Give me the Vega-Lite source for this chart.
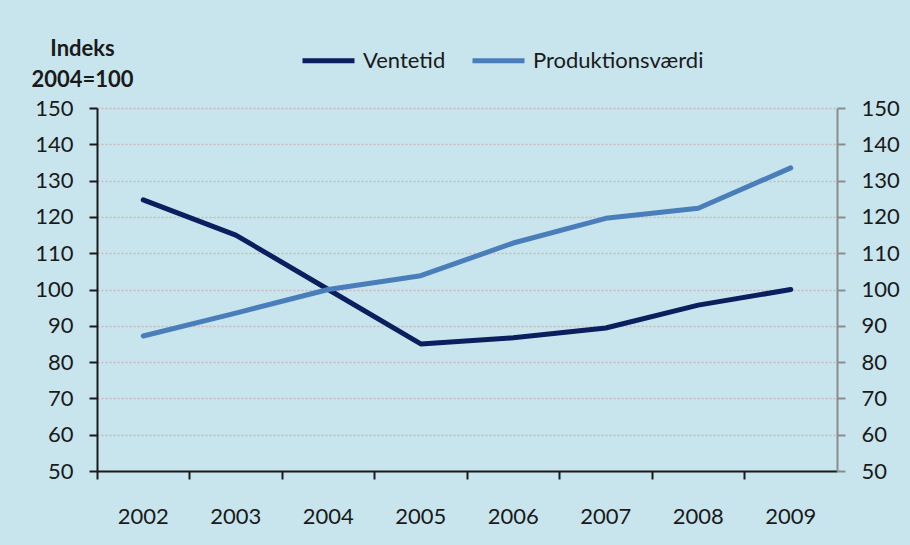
{
  "$schema": "https://vega.github.io/schema/vega-lite/v6.json",
  "width": 740,
  "height": 363,
  "autosize": {"type": "none"},
  "padding": {"left": 97, "top": 108, "right": 73, "bottom": 74},
  "background": "#c8e5ed",
  "config": {
    "view": {"stroke": null},
    "font": "Lato",
    "axis": {"labelFont": "Lato", "labelFontSize": 22, "labelColor": "#1a1a1a", "titleFont": "Lato"},
    "legend": {"labelFont": "Lato"}
  },
  "data": {
    "values": [
      {"year": "2002", "series": "Ventetid", "value": 124.7},
      {"year": "2003", "series": "Ventetid", "value": 115.0},
      {"year": "2004", "series": "Ventetid", "value": 100.0},
      {"year": "2005", "series": "Ventetid", "value": 85.0},
      {"year": "2006", "series": "Ventetid", "value": 86.7},
      {"year": "2007", "series": "Ventetid", "value": 89.4},
      {"year": "2008", "series": "Ventetid", "value": 95.7},
      {"year": "2009", "series": "Ventetid", "value": 100.0},
      {"year": "2002", "series": "Produktionsværdi", "value": 87.2},
      {"year": "2003", "series": "Produktionsværdi", "value": 93.5},
      {"year": "2004", "series": "Produktionsværdi", "value": 100.0},
      {"year": "2005", "series": "Produktionsværdi", "value": 103.8},
      {"year": "2006", "series": "Produktionsværdi", "value": 112.8},
      {"year": "2007", "series": "Produktionsværdi", "value": 119.6},
      {"year": "2008", "series": "Produktionsværdi", "value": 122.4},
      {"year": "2009", "series": "Produktionsværdi", "value": 133.5}
    ]
  },
  "layer": [
    {
      "mark": {"type": "line", "strokeWidth": 5, "strokeCap": "round", "strokeJoin": "round"},
      "encoding": {
        "x": {
          "field": "year", "type": "ordinal", "bandPosition": 0.5,
          "scale": {"type": "band", "paddingInner": 0, "paddingOuter": 0},
          "axis": {
            "title": null, "labelAngle": 0, "bandPosition": 0,
            "domainColor": "#1a1a1a", "domainWidth": 2,
            "tickColor": "#1a1a1a", "tickWidth": 2, "tickSize": 8,
            "labelPadding": 27, "grid": false
          }
        },
        "y": {
          "field": "value", "type": "quantitative",
          "scale": {"domain": [50, 150], "nice": false, "zero": false},
          "axis": {
            "orient": "left",
            "values": [50, 60, 70, 80, 90, 100, 110, 120, 130, 140, 150],
            "title": ["Indeks", "2004=100"],
            "titleAngle": 0, "titleAlign": "center", "titleBaseline": "alphabetic",
            "titleX": -15, "titleY": -53, "titleFontSize": 22, "titleFontWeight": "bold",
            "titleColor": "#1a1a1a", "titleLineHeight": 31,
            "domainColor": "#1a1a1a", "domainWidth": 2,
            "tickColor": "#1a1a1a", "tickWidth": 2, "tickSize": 8,
            "labelPadding": 16,
            "grid": true, "gridColor": "#c9b8bb", "gridDash": [2, 2], "gridWidth": 1.5
          }
        },
        "color": {
          "field": "series", "type": "nominal",
          "scale": {"domain": ["Ventetid", "Produktionsværdi"], "range": ["#0b1f5e", "#4a7ebb"]},
          "legend": {
            "title": null, "orient": "none", "direction": "horizontal",
            "legendX": 203, "legendY": -76, "padding": 0,
            "symbolType": "stroke", "symbolSize": 2704, "symbolStrokeWidth": 5,
            "labelFontSize": 22, "labelColor": "#1a1a1a", "labelOffset": 6,
            "labelLimit": 400, "columnPadding": 16
          }
        }
      }
    },
    {
      "mark": {"type": "line", "opacity": 0},
      "encoding": {
        "x": {"field": "year", "type": "ordinal", "bandPosition": 0.5},
        "y": {
          "field": "value", "type": "quantitative",
          "axis": {
            "orient": "right",
            "values": [50, 60, 70, 80, 90, 100, 110, 120, 130, 140, 150],
            "title": null, "grid": false,
            "domainColor": "#8c8c8c", "domainWidth": 2,
            "tickColor": "#8c8c8c", "tickWidth": 2, "tickSize": 8,
            "labelPadding": 16
          }
        },
        "detail": {"field": "series"}
      }
    }
  ],
  "resolve": {"axis": {"y": "independent"}}
}
